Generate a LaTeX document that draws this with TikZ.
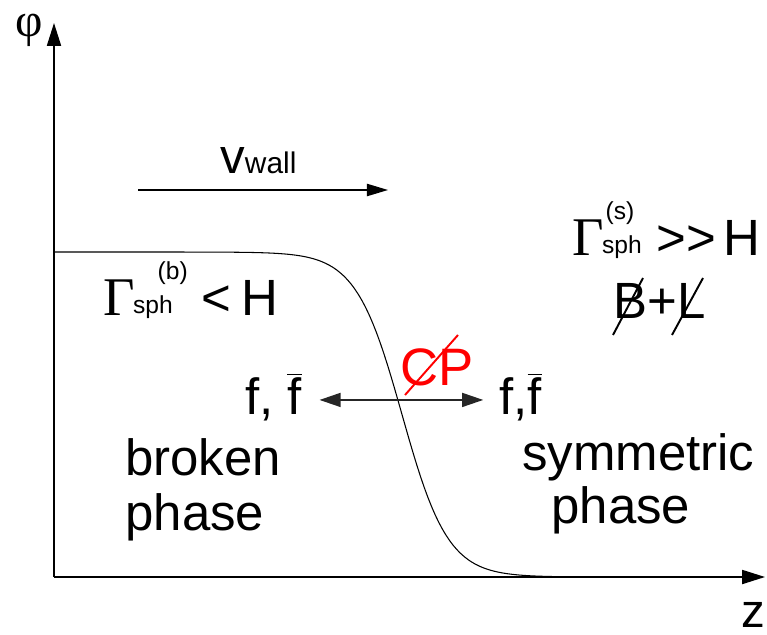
\documentclass[tikz,border=0pt]{standalone}
\usepackage{fontspec}
\setmainfont{Liberation Sans}
\newfontfamily\grkfont{Liberation Serif}
\usetikzlibrary{arrows.meta, positioning}

\newcommand{\bigsz}{\fontsize{29}{32}\selectfont}
\newcommand{\subsz}{\fontsize{14}{16}\selectfont}
\newcommand{\antif}{$\overline{\hbox{f}}$}
% Gamma with sph below and (#1) above, #2 = shift of the upper index
\newcommand{\sphrate}[2]{{\grkfont\fontsize{31}{33}\selectfont Γ}\kern-1pt\rlap{\raisebox{1pt}{\subsz sph}}\rlap{\kern#2\raisebox{20pt}{\subsz(#1)}}}

\begin{document}
\begin{tikzpicture}[x=0.02cm, y=-0.02cm,
  axis/.style={line width=0.9pt, -{Triangle[length=13pt, width=8pt]}},
  arr/.style={line width=0.8pt, -{Triangle[length=12pt, width=7pt]}},
  dbl/.style={line width=0.8pt, black!85,
              {Triangle[length=12pt, width=8pt]}-{Triangle[length=12pt, width=8pt]}},
  lbl/.style={inner sep=0pt, font=\bigsz},
  cut/.style={line width=1.1pt}
]
\useasboundingbox (0,0) rectangle (767,635);
% axes
\coordinate (o) at (54,577);
\coordinate (ytop) at (54,23);
\coordinate (zend) at (765,577);
\draw[axis] (o) -- (ytop);
\draw[axis] (o) -- (zend);
\node[lbl, font=\fontsize{27}{29}\selectfont\grkfont] (phi) at (29,30) {φ};
\node[lbl, font=\fontsize{27}{29}\selectfont] (zlab) at (753,615) {z};
% wall profile
\draw[line width=0.6pt] plot[domain=54:600, samples=150] (\x, {414.5+162.5*tanh((\x-402)/46)});
% wall velocity
\coordinate (vs) at (138,190);
\coordinate (ve) at (388,190);
\draw[arr] (vs) -- (ve);
\node[lbl, anchor=base west] (vwall) at (220,173) {\fontsize{28}{30}\selectfont v\fontsize{17}{19}\selectfont wall};
% sphaleron rates
\node[lbl, anchor=base west] (gb) at (103,315) {\sphrate{b}{14pt}\kern39pt<\kern6pt H};
\node[lbl, anchor=base west] (gs) at (572,255) {\sphrate{s}{2pt}\kern31pt>\kern0pt>\kern4.5pt H};
% B+L
\node[lbl] (bl) at (660,301) {B+L};
\draw[cut] ([shift={(-47,34)}]bl.center) -- ([shift={(-17,-23)}]bl.center);
\draw[cut] ([shift={(12,34)}]bl.center) -- ([shift={(43,-23)}]bl.center);
% CP
\node[lbl, text=red, font=\fontsize{30}{32}\selectfont] (cp) at (437,367) {CP};
\draw[cut, red] ([shift={(-32,28)}]cp.center) -- ([shift={(21,-32)}]cp.center);
% particle flux
\node[lbl, anchor=base east] (fl) at (302,414) {f, \antif};
\node[lbl, anchor=base west] (fr) at (499,414) {f,\antif};
\draw[dbl, shorten <=10pt, shorten >=9pt] ([yshift=8pt]fl.base east) -- ([yshift=8pt]fr.base west);
% phases
\node[lbl, anchor=base west] (brk) at (125,475) {broken};
\node[lbl, below=10pt of brk.south west, anchor=north west] (bph) {phase};
\node[lbl, anchor=base west] (sym) at (522,470) {symmetric};
\node[lbl, anchor=base west] (symph) at (551,523) {phase};
\end{tikzpicture}
\end{document}
